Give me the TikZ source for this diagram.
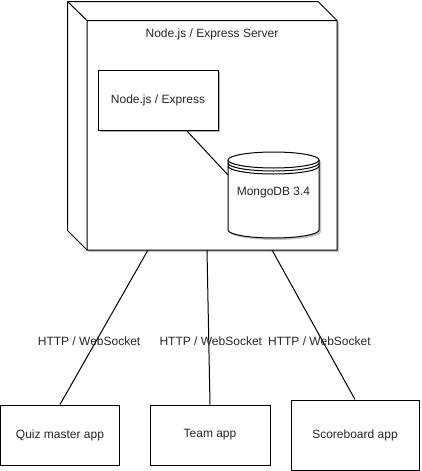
\documentclass[tikz,border=0pt]{standalone}
\usepackage{fontspec}
\setmainfont{Liberation Sans}
\usetikzlibrary{shadows}
\tikzset{
  lbl/.style={font=\fontsize{12}{14}\selectfont, inner sep=0pt, text=black!85},
  appbox/.style={draw, fill=white, lbl, minimum width=120pt, minimum height=60pt},
  shadowed/.style={drop shadow={shadow xshift=2pt, shadow yshift=-2pt, fill=black!30, opacity=1}}
}
\begin{document}
\begin{tikzpicture}[x=1pt, y=-1pt, line width=1pt]
  \useasboundingbox (0,0) rectangle (421,471);
  \fill[black!22] (69.5,3.5) -- (320,3.5) -- (339,22.5) -- (339,252) -- (89,252) -- (69.5,232.5) -- cycle;
  \draw[fill=white] (67.5,1.5) -- (318,1.5) -- (337,20.5) -- (337,250) -- (87,250) -- (67.5,230.5) -- cycle;
  \draw (67.5,1.5) -- (87,20.5) -- (337,20.5) (87,20.5) -- (87,250);
  \node[outer sep=0pt, minimum width=250pt, minimum height=229.5pt] (server) at (212,135.25) {};
  \node[lbl] (servertitle) at (212,34) {Node.js / Express Server};
  \node[appbox, shadowed] (express) at (158,100) {Node.js / Express};
  \fill[black!22] (230,162) -- (230,232) arc[start angle=180, end angle=360, x radius=45.5pt, y radius=8pt] -- (321,162) arc[start angle=0, end angle=180, x radius=45.5pt, y radius=8pt] -- cycle;
  \draw[fill=white] (228,160) -- (228,230) arc[start angle=180, end angle=360, x radius=45.5pt, y radius=8pt] -- (319,160);
  \draw[fill=white] (273.5,160) ellipse [x radius=45.5pt, y radius=8pt];
  \draw (228,163) arc[start angle=180, end angle=360, x radius=45.5pt, y radius=8pt];
  \draw (228,166) arc[start angle=180, end angle=360, x radius=45.5pt, y radius=8pt];
  \node[lbl, minimum width=91pt, minimum height=86pt, outer sep=0pt] (db) at (273.5,193) {MongoDB 3.4};
  \draw ([xshift=-32pt]express.south east) -- ([yshift=18pt]db.west);
  \node[appbox] (quiz) at (60,435) [minimum width=119pt] {Quiz master app};
  \node[appbox] (team) at (210,435) {Team app};
  \node[appbox] (score) at (355,435) [minimum width=128pt, minimum height=70pt] {Scoreboard app};
  \draw ([xshift=61pt]server.south west) -- node[lbl, pos=.59, xshift=-7pt] {HTTP / WebSocket} (quiz.north);
  \draw ([xshift=120pt]server.south west) -- node[lbl, pos=.59, xshift=2pt] {HTTP / WebSocket} (team.north);
  \draw ([xshift=185pt]server.south west) -- node[lbl, pos=.607, xshift=-3pt] {HTTP / WebSocket} (score.north);
\end{tikzpicture}
\end{document}
